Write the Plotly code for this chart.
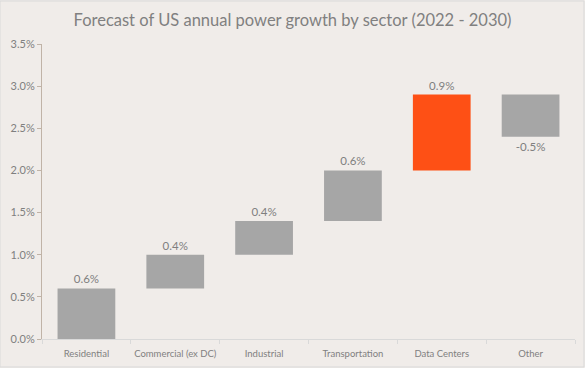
import plotly.graph_objects as go

categories = ["Residential", "Commercial (ex DC)", "Industrial", "Transportation", "Data Centers", "Other"]
changes = [0.6, 0.4, 0.4, 0.6, 0.9, -0.5]
bases = [0.0, 0.6, 1.0, 1.4, 2.0, 2.9]
labels = ["0.6%", "0.4%", "0.4%", "0.6%", "0.9%", "-0.5%"]
colors = ["#a6a6a6", "#a6a6a6", "#a6a6a6", "#a6a6a6", "#fe5015", "#a6a6a6"]

bg = "#f0ece9"
fig = go.Figure(go.Bar(
    x=categories, y=changes, base=bases,
    marker=dict(color=colors, line=dict(width=0)),
    text=labels, textposition="outside", cliponaxis=False,
    textfont=dict(family="Lato", size=11.5, color="#7f7f7f"),
    width=0.65, hoverinfo="skip",
))

fig.update_layout(
    width=585, height=368,
    paper_bgcolor=bg, plot_bgcolor=bg,
    margin=dict(l=42, r=10, t=44, b=29, autoexpand=False),
    title=dict(text="Forecast of US annual power growth by sector (2022 - 2030)",
               x=0.5, xanchor="center", y=0.945, yanchor="middle",
               font=dict(family="Lato", size=16.5, color="#808080")),
    font=dict(family="Lato", color="#7f7f7f"),
    showlegend=False,
    xaxis=dict(showline=True, linecolor="#d9d9d9", linewidth=1,
               ticks="outside", tickson="boundaries", ticklen=4, tickcolor="#d9d9d9",
               tickangle=0, automargin=False, ticklabelstandoff=6,
               tickfont=dict(family="Lato", size=9.5, color="#808080"),
               showgrid=False, range=[-0.5, 5.5]),
    yaxis=dict(range=[0, 3.5], dtick=0.5, tickformat=".1f", ticksuffix="%",
               showline=True, linecolor="#c0b3a7", linewidth=1, automargin=False,
               ticks="outside", ticklen=4, tickcolor="#c0b3a7",
               tickfont=dict(family="Lato", size=11, color="#7f7f7f"),
               showgrid=False, zeroline=False),
    shapes=[dict(type="rect", xref="paper", yref="paper",
                 x0=-42/533, x1=1 + 9/533, y0=-28/295, y1=1 + 43/295,
                 line=dict(color="#d9d9d9", width=1), fillcolor="rgba(0,0,0,0)")],
)

fig.write_html("out.html", config={"displayModeBar": False},
               post_script="document.body.style.margin='0';document.body.style.background='%s';" % bg)
